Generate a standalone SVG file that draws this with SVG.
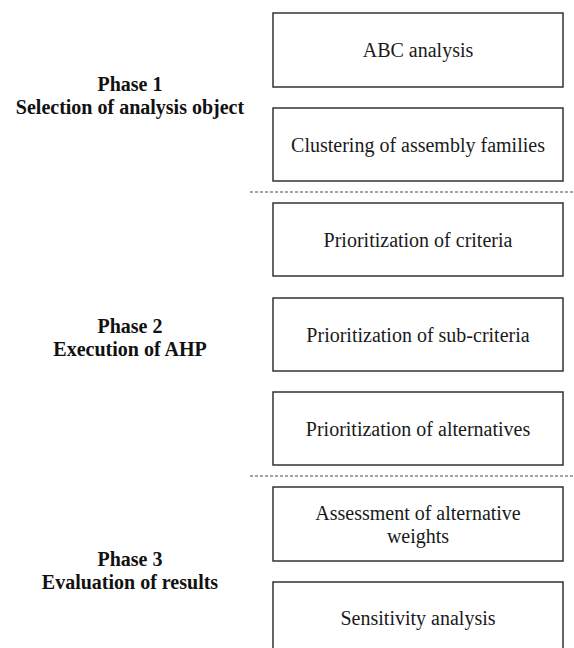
<svg xmlns="http://www.w3.org/2000/svg" width="574" height="648" viewBox="0 0 574 648">
<style>
.box{fill:#fff;stroke:#333;stroke-width:1.5}
.t{font-family:"Liberation Serif","Times New Roman",serif;font-size:20px;fill:#1a1a1a;text-anchor:middle}
.ph{font-family:"Liberation Serif","Times New Roman",serif;font-size:20px;font-weight:bold;fill:#111;text-anchor:middle}
.sep{stroke:#888;stroke-width:1.3;stroke-dasharray:3 2}
</style>
<rect width="574" height="648" fill="#fff"/>
<g id="separators">
<line class="sep" x1="250" y1="192" x2="574" y2="192"/>
<line class="sep" x1="250" y1="476" x2="574" y2="476"/>
</g>
<g id="phase1"><text class="ph" x="130" y="91">Phase 1</text><text class="ph" x="130" y="114">Selection of analysis object</text></g>
<g id="phase2"><text class="ph" x="130" y="333">Phase 2</text><text class="ph" x="130" y="356">Execution of AHP</text></g>
<g id="phase3"><text class="ph" x="130" y="566">Phase 3</text><text class="ph" x="130" y="589">Evaluation of results</text></g>
<g id="abc"><rect class="box" x="273" y="13" width="290" height="74"/><text class="t" x="418" y="57">ABC analysis</text></g>
<g id="clustering"><rect class="box" x="273" y="108" width="290" height="73"/><text class="t" x="418" y="151.5">Clustering of assembly families</text></g>
<g id="criteria"><rect class="box" x="273" y="203" width="290" height="73"/><text class="t" x="418" y="246.5">Prioritization of criteria</text></g>
<g id="subcriteria"><rect class="box" x="273" y="298" width="290" height="73"/><text class="t" x="418" y="341.5">Prioritization of sub-criteria</text></g>
<g id="alternatives"><rect class="box" x="273" y="392" width="290" height="73"/><text class="t" x="418" y="435.5">Prioritization of alternatives</text></g>
<g id="assessment"><rect class="box" x="273" y="487" width="290" height="74"/><text class="t" x="418" y="519.5">Assessment of alternative</text><text class="t" x="418" y="542.5">weights</text></g>
<g id="sensitivity"><rect class="box" x="273" y="582" width="290" height="74"/><text class="t" x="418" y="625">Sensitivity analysis</text></g>
<g id="connectors"></g>
</svg>
